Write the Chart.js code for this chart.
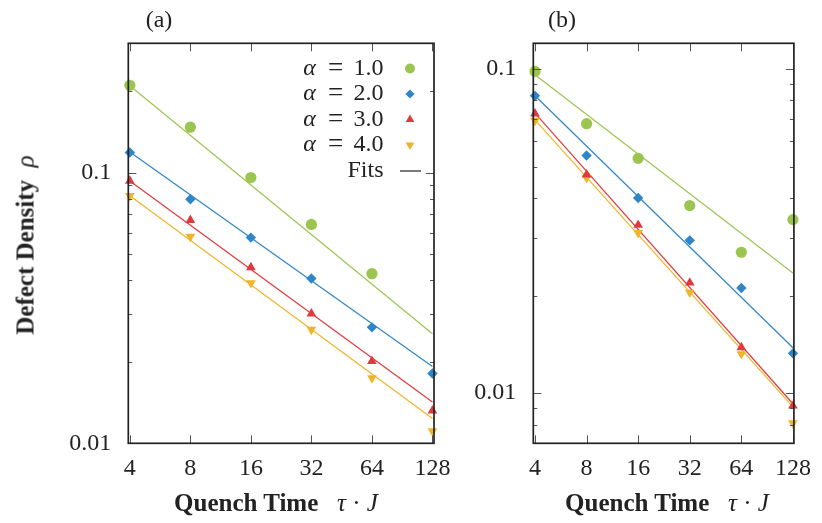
<!DOCTYPE html>
<html>
<head>
<meta charset="utf-8">
<script src="https://cdn.jsdelivr.net/npm/chart.js@4.4.1/dist/chart.umd.min.js"></script>
<style>
  body { margin: 0; background: #fff; width: 822px; height: 523px; position: relative; overflow: hidden;
         font-family: "Liberation Serif", "Times New Roman", serif; color: #222; }
  canvas { position: absolute; top: 0; }
  #panelA { left: 0; }
  #panelB { left: 440px; }
  .txt { position: absolute; white-space: nowrap; line-height: 1; transform: translate(-50%, -50%); }
  .tag { font-size: 24px; }
  .axis-title { font-size: 25px; }
  .axis-title b { font-weight: bold; }
  .axis-title i { font-style: italic; }
  #ytitle { transform: translate(-50%, -50%) rotate(-90deg); }
</style>
</head>
<body>
<canvas id="panelA" width="470" height="523"></canvas>
<canvas id="panelB" width="382" height="523"></canvas>

<div class="txt tag" style="left:159px; top:19px;">(a)</div>
<div class="txt tag" style="left:562px; top:19px;">(b)</div>
<div class="txt axis-title" id="ytitle" style="left:25px; top:245px;"><b>Defect Density</b>&nbsp;&nbsp;<i>ρ</i></div>
<div class="txt axis-title" style="left:276px; top:502px;"><b>Quench Time</b>&nbsp;&nbsp;&nbsp;<i>τ</i> · <i>J</i></div>
<div class="txt axis-title" style="left:667px; top:502px;"><b>Quench Time</b>&nbsp;&nbsp;&nbsp;<i>τ</i> · <i>J</i></div>

<script>
// quench times (tau*J) and the alpha values of each series
const quenchTimes = [4, 8, 16, 32, 64, 128];
const fitTimes = [4, 128];
const alphaValues = ['1.0', '2.0', '3.0', '4.0'];
const xTickValues = [4, 8, 16, 32, 64, 128];
const yTickValues = [0.01, 0.1];

// panel (a): defect density per alpha
const densityA1 = [0.210, 0.147, 0.0958, 0.0643, 0.0423, null];
const densityA2 = [0.1185, 0.0797, 0.0575, 0.0406, 0.0268, 0.0181];
const densityA3 = [0.0931, 0.0667, 0.0446, 0.0301, 0.0201, 0.0132];
const densityA4 = [0.0820, 0.0580, 0.0391, 0.0263, 0.0174, 0.0111];
// power-law fits, value at tau*J = 4 and 128
const fitA1 = [0.209, 0.0254];
const fitA2 = [0.1191, 0.0192];
const fitA3 = [0.0930, 0.01421];
const fitA4 = [0.0820, 0.01234];

// panel (b)
const densityB1 = [0.0983, 0.0678, 0.0530, 0.0379, 0.0272, 0.0343];
const densityB2 = [0.0826, 0.0541, 0.0400, 0.0296, 0.0211, 0.01326];
const densityB3 = [0.0728, 0.0472, 0.0330, 0.0219, 0.01383, 0.00914];
const densityB4 = [0.0693, 0.0461, 0.0312, 0.02044, 0.0132, 0.00808];
const fitB1 = [0.0960, 0.02346];
const fitB2 = [0.0827, 0.0138];
const fitB3 = [0.0731, 0.00927];
const fitB4 = [0.0697, 0.00907];

const seriesColors = ['#9cc451', '#2f86c6', '#e03a3e', '#f0b428'];
const markerStyles = ['circle', 'rectRot', 'triangle', 'triangle'];
const markerRotations = [0, 0, 0, 180];
const markerRadii = [5.6, 5.2, 5.6, 5.6];

const serif = '"Liberation Serif", "Times New Roman", serif';

function buildDatasets(densities, fits) {
  const sets = [];
  densities.forEach((vals, i) => {
    sets.push({
      label: 'α = ' + alphaValues[i],
      data: quenchTimes.map((t, k) => ({ x: t, y: vals[k] })).filter(p => p.y !== null),
      showLine: false,
      pointStyle: markerStyles[i],
      pointRotation: markerRotations[i],
      pointRadius: markerRadii[i],
      pointBackgroundColor: seriesColors[i],
      pointBorderWidth: 0,
      clip: false,
      order: 0
    });
  });
  fits.forEach((vals, i) => {
    sets.push({
      label: 'Fit α = ' + alphaValues[i],
      data: fitTimes.map((t, k) => ({ x: t, y: vals[k] })),
      showLine: true,
      borderColor: seriesColors[i],
      borderWidth: 1.2,
      pointRadius: 0,
      order: 1
    });
  });
  return sets;
}

// box around the plot with inward ticks on all four sides
const framePlugin = {
  id: 'frame',
  afterDatasetsDraw(chart) {
    const { ctx, chartArea: a, scales: { x, y } } = chart;
    const seg = (x1, y1, x2, y2) => { ctx.beginPath(); ctx.moveTo(x1, y1); ctx.lineTo(x2, y2); ctx.stroke(); };
    ctx.save();
    ctx.strokeStyle = '#555';
    ctx.lineWidth = 1;
    xTickValues.forEach(v => {
      const px = Math.round(x.getPixelForValue(v)) + 0.5;
      seg(px, a.bottom, px, a.bottom - 8);
      seg(px, a.top, px, a.top + 8);
    });
    const lo = Math.floor(Math.log10(y.min)), hi = Math.ceil(Math.log10(y.max));
    for (let e = lo; e < hi; e++) {
      for (let m = 1; m <= 9; m++) {
        const v = m * Math.pow(10, e);
        if (v < y.min * 0.999 || v > y.max * 1.001) continue;
        const len = m === 1 ? 8 : 4;
        const py = Math.round(y.getPixelForValue(v)) + 0.5;
        seg(a.left, py, a.left + len, py);
        seg(a.right, py, a.right - len, py);
      }
    }
    ctx.strokeStyle = '#222';
    ctx.lineWidth = 1.7;
    ctx.strokeRect(a.left, a.top, a.right - a.left, a.bottom - a.top);
    ctx.restore();
  }
};

// key in the top right corner of panel (a)
const keyPlugin = {
  id: 'alphaKey',
  afterDatasetsDraw(chart) {
    const ctx = chart.ctx;
    const right = 383.5, markX = 410;
    const rows = [68.5, 94, 119.5, 145];
    ctx.save();
    ctx.textBaseline = 'middle';
    ctx.fillStyle = '#222';
    rows.forEach((ry, i) => {
      ctx.font = '24px ' + serif;
      ctx.textAlign = 'right';
      ctx.fillText(alphaValues[i], right, ry);
      ctx.textAlign = 'center';
      ctx.font = '27px ' + serif;
      ctx.fillText('=', right - 48, ry);
      ctx.font = 'italic 24px ' + serif;
      ctx.fillText('α', right - 74, ry);
      ctx.fillStyle = seriesColors[i];
      Chart.helpers.drawPoint(ctx, {
        pointStyle: markerStyles[i], rotation: markerRotations[i],
        radius: markerRadii[i] - 0.6, borderWidth: 0
      }, markX, ry);
      ctx.fillStyle = '#222';
    });
    const fy = 170.5;
    ctx.font = '24px ' + serif;
    ctx.textAlign = 'right';
    ctx.fillText('Fits', right, fy);
    ctx.strokeStyle = '#222';
    ctx.lineWidth = 1.2;
    ctx.beginPath();
    ctx.moveTo(400, fy + 0.5);
    ctx.lineTo(421, fy + 0.5);
    ctx.stroke();
    ctx.restore();
  }
};

function makePanel(id, densities, fits, xRange, yRange, area, extraPlugins) {
  const canvas = document.getElementById(id);
  const tickFont = { family: serif, size: 24 };
  return new Chart(canvas.getContext('2d'), {
    type: 'scatter',
    data: { datasets: buildDatasets(densities, fits) },
    options: {
      responsive: false,
      animation: false,
      events: [],
      layout: { padding: { left: 0, top: area.top, right: canvas.width - area.right, bottom: 0 } },
      plugins: { legend: { display: false }, tooltip: { enabled: false } },
      scales: {
        x: {
          type: 'logarithmic',
          min: xRange[0], max: xRange[1],
          afterBuildTicks: s => { s.ticks = xTickValues.map(v => ({ value: v })); },
          afterFit: s => { s.height = canvas.height - area.bottom; },
          ticks: { callback: v => String(v), font: tickFont, color: '#222', padding: 11,
                   autoSkip: false, maxRotation: 0, minRotation: 0 },
          grid: { display: false, drawTicks: false },
          border: { display: false }
        },
        y: {
          type: 'logarithmic',
          min: yRange[0], max: yRange[1],
          afterBuildTicks: s => { s.ticks = yTickValues.map(v => ({ value: v })); },
          afterFit: s => { s.width = area.left; },
          ticks: { callback: v => String(v), font: tickFont, color: '#222', padding: 17, autoSkip: false },
          grid: { display: false, drawTicks: false },
          border: { display: false }
        }
      }
    },
    plugins: [framePlugin].concat(extraPlugins)
  });
}

makePanel('panelA',
  [densityA1, densityA2, densityA3, densityA4],
  [fitA1, fitA2, fitA3, fitA4],
  [3.93, 130.3], [0.01, 0.3],
  { left: 128.3, right: 434, top: 43.3, bottom: 443.3 },
  [keyPlugin]);

makePanel('panelB',
  [densityB1, densityB2, densityB3, densityB4],
  [fitB1, fitB2, fitB3, fitB4],
  [3.91, 129.7], [0.007, 0.12],
  { left: 93.3, right: 364.3, top: 43.3, bottom: 443.3 },
  []);
</script>
</body>
</html>
